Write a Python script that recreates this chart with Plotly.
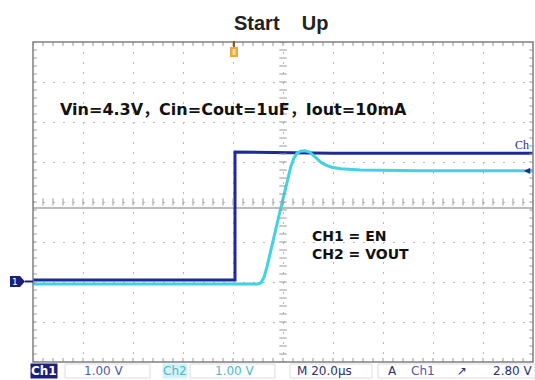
import plotly.graph_objects as go

# ---- data (time in µs, voltage in V) ----
en_t = [-80, 0.8, 0.8, 40, 80, 120]
en_v = [0.05, 0.05, 3.25, 3.22, 3.22, 3.22]

vout_t = [-80, 10.0, 11.2, 12.4, 13.6, 14.8, 16.0, 17.2, 18.4, 19.6, 20.8, 22.0, 23.2, 24.4, 25.6, 27.0, 28.8, 30.6, 32.0, 33.5, 35.0, 37.0, 39.5, 43.0, 51.0, 75.0, 120]
vout_v = [-0.05, -0.05, -0.02, 0.12, 0.38, 0.68, 1.0, 1.34, 1.66, 1.98, 2.3, 2.62, 2.9, 3.1, 3.22, 3.27, 3.28, 3.25, 3.18, 3.09, 3.0, 2.93, 2.87, 2.83, 2.8, 2.78, 2.78]

title_text = "Start    Up"
cond_text = "Vin=4.3V，Cin=Cout=1uF，Iout=10mA"
legend_lines = ["CH1 = EN", "CH2 = VOUT"]
status = {"ch1": "Ch1", "ch1_scale": "1.00 V", "ch2": "Ch2", "ch2_scale": "1.00 V",
          "time": "M 20.0µs", "trig": "A", "trig_src": "Ch1", "edge": "\u2197", "level": "2.80 V"}

X0, X1 = -80, 120
Y0, Y1 = -2, 6

EN_COLOR = "#1e2b96"
VOUT_COLOR = "#3fd3e3"
GRID = "#b8b8b8"
FONT = "DejaVu Sans, Noto Sans CJK SC, sans-serif"
FONT_T = "Liberation Sans, Arial, sans-serif"

W, H = 535, 380
ML, MR, MT, MB = 33, 2, 42, 18
PW, PH = W - ML - MR, H - MT - MB


def px(xp):
    return (xp - ML) / PW


def py(yp):
    return (H - MB - yp) / PH


fig = go.Figure()
fig.add_trace(go.Scatter(x=en_t, y=en_v, mode="lines",
                         line=dict(color=EN_COLOR, width=3), showlegend=False))
fig.add_trace(go.Scatter(x=vout_t, y=vout_v, mode="lines",
                         line=dict(color=VOUT_COLOR, width=3), showlegend=False))

shapes = []
xdiv = (X1 - X0) / 10
ydiv = (Y1 - Y0) / 8
xc = X0 + 5 * xdiv
yc = Y0 + 4 * ydiv
t = X0
while t <= X1 + 1e-9:
    shapes.append(dict(type="line", xref="x", yref="y", x0=t, x1=t, y0=yc - 0.09, y1=yc + 0.09,
                       line=dict(color="#999", width=1)))
    shapes.append(dict(type="line", xref="x", yref="y", x0=t, x1=t, y0=Y1, y1=Y1 - 0.1,
                       line=dict(color="#999", width=1)))
    shapes.append(dict(type="line", xref="x", yref="y", x0=t, x1=t, y0=Y0, y1=Y0 + 0.1,
                       line=dict(color="#999", width=1)))
    t += xdiv / 5
v = Y0
while v <= Y1 + 1e-9:
    shapes.append(dict(type="line", xref="x", yref="y", x0=xc - 1.5, x1=xc + 1.5, y0=v, y1=v,
                       line=dict(color="#999", width=1)))
    shapes.append(dict(type="line", xref="x", yref="y", x0=X0, x1=X0 + 1.5, y0=v, y1=v,
                       line=dict(color="#999", width=1)))
    shapes.append(dict(type="line", xref="x", yref="y", x0=X1, x1=X1 - 1.5, y0=v, y1=v,
                       line=dict(color="#999", width=1)))
    v += ydiv / 5
shapes.append(dict(type="line", xref="paper", yref="paper", x0=0, x1=1, y0=py(208), y1=py(208),
                   line=dict(color="#7a7a7a", width=1.2), layer="below"))
shapes.append(dict(type="rect", xref="paper", yref="paper", x0=0, x1=1, y0=0, y1=1,
                   line=dict(color="#808080", width=1.5)))
shapes.append(dict(type="rect", xref="paper", yref="paper", x0=px(230), x1=px(238), y0=py(57), y1=py(47),
                   fillcolor="#f2a53a", line=dict(width=0)))
shapes.append(dict(type="rect", xref="paper", yref="paper", x0=px(232.5), x1=px(235.5), y0=py(55), y1=py(49),
                   fillcolor="#fde2b0", line=dict(width=0)))
shapes.append(dict(type="line", xref="paper", yref="paper", x0=px(234), x1=px(234), y0=py(47), y1=py(41),
                   line=dict(color="#8a5a20", width=2)))
shapes.append(dict(type="path", xref="paper", yref="paper",
                   path=f"M {px(10)},{py(276)} L {px(20)},{py(276)} L {px(25)},{py(281.5)} L {px(20)},{py(287)} L {px(10)},{py(287)} Z",
                   fillcolor="#1a1f78", line=dict(width=0)))
shapes.append(dict(type="line", xref="paper", yref="paper", x0=px(25), x1=px(33), y0=py(281.5), y1=py(281.5),
                   line=dict(color="#1a1f78", width=2)))
for a, b in [(65, 150), (190, 275), (290, 372), (378, 535)]:
    shapes.append(dict(type="rect", xref="paper", yref="paper", x0=px(a), x1=px(b), y0=py(378), y1=py(364),
                       line=dict(color="#dcdcdc", width=1)))

ann = []
ann.append(dict(text="<b>" + title_text + "</b>", x=px(281), y=py(23), xref="paper", yref="paper",
                showarrow=False, font=dict(family=FONT_T, size=20, color="#222"), xanchor="center", yanchor="middle"))
ann.append(dict(text="<b>" + cond_text + "</b>", x=px(58), y=py(109), xref="paper", yref="paper",
                showarrow=False, font=dict(family=FONT, size=16, color="#111"), xanchor="left", yanchor="middle"))
ann.append(dict(text="<br>".join("<b>" + s + "</b>" for s in legend_lines), x=px(310), y=py(245),
                xref="paper", yref="paper", showarrow=False, align="left",
                font=dict(family=FONT, size=14, color="#111"), xanchor="left", yanchor="middle"))
ann.append(dict(text="1", x=px(15), y=py(281.5), xref="paper", yref="paper", showarrow=False,
                font=dict(family=FONT, size=9, color="white"), xanchor="center", yanchor="middle"))
ann.append(dict(text="Ch", x=px(513), y=py(145), xref="paper", yref="paper", showarrow=False,
                font=dict(family="Liberation Serif, serif", size=12, color="#1e2b96"), xanchor="left", yanchor="middle"))
ann.append(dict(text="\u25c0", x=px(533), y=py(170), xref="paper", yref="paper", showarrow=False,
                font=dict(family=FONT, size=8, color="#1e2b96"), xanchor="right", yanchor="middle"))
sy = py(371)
SF = 12
ann.append(dict(text="<b>" + status["ch1"] + "</b>", x=px(30), y=sy, xref="paper", yref="paper", showarrow=False,
                bgcolor="#1b1f7a", font=dict(family=FONT, size=SF, color="white"), xanchor="left", yanchor="middle",
                borderpad=0))
ann.append(dict(text=status["ch1_scale"], x=px(82), y=sy, xref="paper", yref="paper", showarrow=False,
                font=dict(family=FONT, size=SF, color="#4a5ab0"), xanchor="left", yanchor="middle"))
ann.append(dict(text=status["ch2"], x=px(162), y=sy, xref="paper", yref="paper", showarrow=False,
                bgcolor="#d2f2f6", font=dict(family=FONT, size=SF, color="#4ab8c8"), xanchor="left", yanchor="middle",
                borderpad=0))
ann.append(dict(text=status["ch2_scale"], x=px(213), y=sy, xref="paper", yref="paper", showarrow=False,
                font=dict(family=FONT, size=SF, color="#4ab8c8"), xanchor="left", yanchor="middle"))
ann.append(dict(text=status["time"], x=px(295), y=sy, xref="paper", yref="paper", showarrow=False,
                font=dict(family=FONT, size=SF, color="#2a3070"), xanchor="left", yanchor="middle"))
ann.append(dict(text=status["trig"], x=px(386), y=sy, xref="paper", yref="paper", showarrow=False,
                font=dict(family=FONT, size=SF, color="#2a3070"), xanchor="left", yanchor="middle"))
ann.append(dict(text=status["trig_src"], x=px(409), y=sy, xref="paper", yref="paper", showarrow=False,
                font=dict(family=FONT, size=SF, color="#4a5ab0"), xanchor="left", yanchor="middle"))
ann.append(dict(text=status["edge"], x=px(455), y=sy, xref="paper", yref="paper", showarrow=False,
                font=dict(family=FONT, size=SF, color="#2a3070"), xanchor="left", yanchor="middle"))
ann.append(dict(text=status["level"], x=px(535), y=sy, xref="paper", yref="paper", showarrow=False,
                font=dict(family=FONT, size=SF, color="#2a3070"), xanchor="right", yanchor="middle"))

fig.update_layout(
    width=W, height=H, margin=dict(l=ML, r=MR, t=MT, b=MB),
    paper_bgcolor="white", plot_bgcolor="white",
    shapes=shapes, annotations=ann, showlegend=False,
    xaxis=dict(range=[X0, X1], dtick=xdiv, tick0=X0, showgrid=True, gridcolor=GRID, griddash="2px,8px",
               gridwidth=1, zeroline=False, showticklabels=False, ticks="", showline=False, fixedrange=True),
    yaxis=dict(range=[Y0, Y1], dtick=ydiv, tick0=Y0, showgrid=True, gridcolor=GRID, griddash="2px,8px",
               gridwidth=1, zeroline=False, showticklabels=False, ticks="", showline=False, fixedrange=True),
)
fig.write_html("out.html", config={"displayModeBar": False})
